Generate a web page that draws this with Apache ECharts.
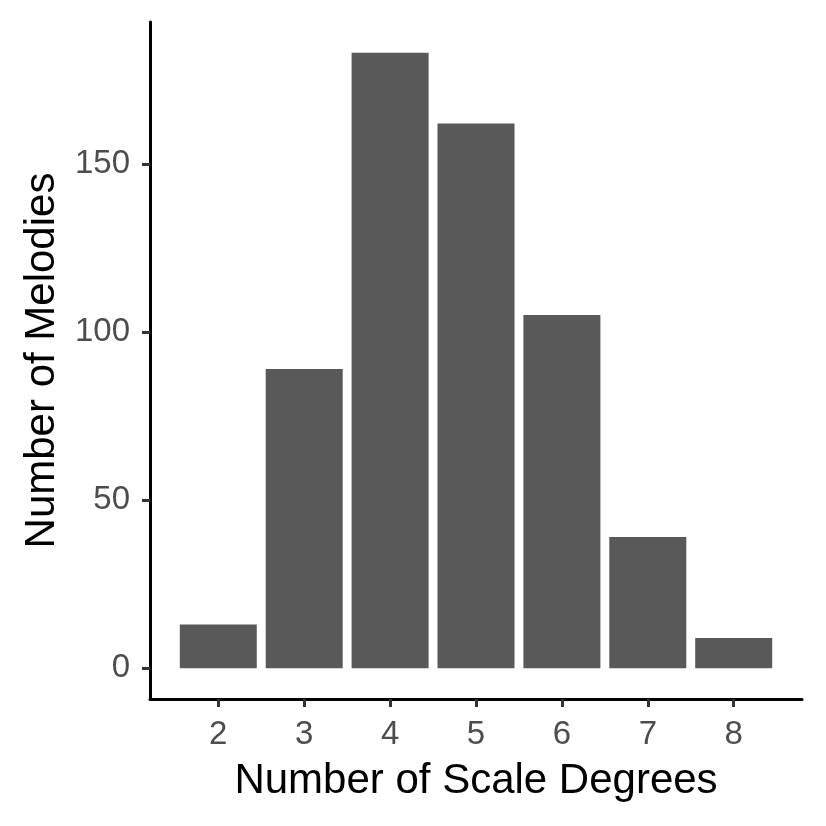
<!DOCTYPE html>
<html lang="en">
<head>
  <meta charset="UTF-8">
  <title>Number of Melodies by Scale Degrees</title>
  <script src="https://cdn.jsdelivr.net/npm/echarts@6.0.0/dist/echarts.min.js"></script>
  <style>
    html, body { margin: 0; padding: 0; background: #fff; }
    #main { width: 826px; height: 826px; }
  </style>
</head>
<body>
<div id="main"></div>
<script>
  // data
  var scaleDegrees = [2, 3, 4, 5, 6, 7, 8];
  var melodyCounts = [13, 89, 183, 162, 105, 39, 9];
  var yTicks = [0, 50, 100, 150];

  var font = 'Liberation Sans, Arial, sans-serif';
  var myChart = echarts.init(document.getElementById('main'));

  myChart.setOption({
    animation: false,
    backgroundColor: '#fff',
    grid: { left: 150, right: 24, top: 22, bottom: 127 },
    xAxis: {
      type: 'value',
      min: 1.205,
      max: 8.795,
      name: 'Number of Scale Degrees',
      nameLocation: 'middle',
      nameGap: 61,
      nameTextStyle: { color: '#000', fontSize: 42, fontFamily: font },
      axisLine: { onZero: false, lineStyle: { color: '#000', width: 3 } },
      axisTick: { customValues: scaleDegrees, length: 8, lineStyle: { color: '#333', width: 3 } },
      axisLabel: { customValues: scaleDegrees, color: '#4d4d4d', fontSize: 33, fontFamily: font, margin: 19 },
      splitLine: { show: false }
    },
    yAxis: {
      type: 'value',
      min: -9.15,
      max: 192.15,
      name: 'Number of Melodies',
      nameLocation: 'middle',
      nameGap: 87,
      nameTextStyle: { color: '#000', fontSize: 42, fontFamily: font },
      axisLine: { onZero: false, lineStyle: { color: '#000', width: 3 } },
      axisTick: { customValues: yTicks, length: 8, lineStyle: { color: '#333', width: 3 } },
      axisLabel: { customValues: yTicks, color: '#4d4d4d', fontSize: 33, fontFamily: font, margin: 20 },
      splitLine: { show: false }
    },
    series: [{
      type: 'bar',
      barWidth: 77,
      itemStyle: { color: '#595959' },
      data: scaleDegrees.map(function (d, i) { return [d, melodyCounts[i]]; })
    }]
  });
</script>
</body>
</html>
